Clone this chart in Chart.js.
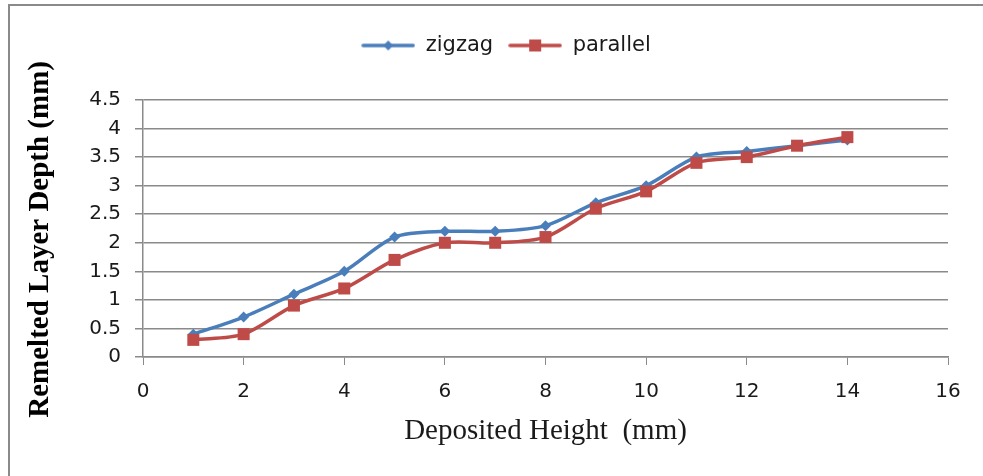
<!DOCTYPE html>
<html>
<head>
<meta charset="utf-8">
<script src="https://cdn.jsdelivr.net/npm/chart.js@4"></script>
<style>
  html, body { margin: 0; padding: 0; background: #fff; }
  #wrap { position: relative; width: 983px; height: 476px; }
  #frame { position: absolute; left: 8px; top: 4px; right: 0; bottom: 0;
           border-top: 2px solid #8a8a8a; border-left: 2px solid #8a8a8a; pointer-events: none; }
</style>
</head>
<body>
<div id="wrap">
  <canvas id="chart" width="983" height="476"></canvas>
  <div id="frame"></div>
</div>
<script>
// ─── Dane ────────────────────────────────────────────────────────────────────
const heights  = [1, 2, 3, 4, 5, 6, 7, 8, 9, 10, 11, 12, 13, 14];
const zigzag   = [0.4, 0.7, 1.1, 1.5, 2.1, 2.2, 2.2, 2.3, 2.7, 3.0, 3.5, 3.6, 3.7, 3.8];
const parallel = [0.3, 0.4, 0.9, 1.2, 1.7, 2.0, 2.0, 2.1, 2.6, 2.9, 3.4, 3.5, 3.7, 3.85];
const seriesNames = ['zigzag', 'parallel'];

const COLORS = {
  zigzag:   '#4a7ebb',
  parallel: '#be4b48',
  grid:     '#8a8a8a',
  text:     '#1a1a1a',
};

// ─── Helpers ─────────────────────────────────────────────────────────────────
function toPoints(values) {
  return heights.map((h, i) => ({ x: h, y: values[i] }));
}

// ikonka legendy: linia + marker
function legendIcon(color, marker) {
  const c = document.createElement('canvas');
  c.width = 54; c.height = 16;
  const g = c.getContext('2d');
  g.strokeStyle = color; g.lineWidth = 3.5; g.lineCap = 'round';
  g.beginPath(); g.moveTo(2, 8); g.lineTo(52, 8); g.stroke();
  g.fillStyle = color;
  g.beginPath();
  if (marker === 'diamond') {
    g.moveTo(27, 3); g.lineTo(32, 8); g.lineTo(27, 13); g.lineTo(22, 8);
  } else {
    g.rect(21, 2, 12, 12);
  }
  g.closePath(); g.fill();
  return c;
}

const icons = [legendIcon(COLORS.zigzag, 'diamond'), legendIcon(COLORS.parallel, 'square')];

// przesunięcie legendy + odstęp pod nią
const legendTweak = {
  id: 'legendTweak',
  beforeInit(chart) {
    const fit = chart.legend.fit;
    chart.legend.fit = function () {
      fit.bind(chart.legend)();
      this.height += 34;
    };
  },
  afterLayout(chart) {
    chart.legend.left += 32;
    chart.legend.right += 32;
  },
};

// ─── Wykres ──────────────────────────────────────────────────────────────────
new Chart(document.getElementById('chart'), {
  type: 'line',
  data: {
    datasets: [
      {
        label: seriesNames[0],
        data: toPoints(zigzag),
        borderColor: COLORS.zigzag,
        backgroundColor: COLORS.zigzag,
        borderWidth: 3.5,
        tension: 0.3,
        pointStyle: 'rectRot',
        pointRadius: 5.5,
        pointBorderWidth: 0,
        order: 1,
      },
      {
        label: seriesNames[1],
        data: toPoints(parallel),
        borderColor: COLORS.parallel,
        backgroundColor: COLORS.parallel,
        borderWidth: 3.5,
        tension: 0.3,
        pointStyle: 'rect',
        pointRadius: 8.5,
        pointBorderWidth: 0,
        order: 0,
      },
    ],
  },
  options: {
    responsive: false,
    animation: false,
    layout: { padding: { top: 20, right: 35, bottom: 0, left: 0 } },
    scales: {
      x: {
        type: 'linear',
        min: 0,
        max: 16,
        afterFit: s => { s.height = 119; },
        ticks: {
          stepSize: 2,
          padding: 15,
          color: COLORS.text,
          font: { family: '"DejaVu Sans", sans-serif', size: 20 },
        },
        title: {
          display: true,
          text: 'Deposited Height  (mm)',
          color: COLORS.text,
          padding: { bottom: 27 },
          font: { family: '"Liberation Serif", serif', size: 29, lineHeight: 1.2 },
        },
        grid: { drawOnChartArea: false, drawTicks: true, tickLength: 8, color: COLORS.grid },
        border: { color: COLORS.grid, width: 1.5 },
      },
      y: {
        min: 0,
        max: 4.5,
        afterFit: s => { s.width = 143; },
        ticks: {
          stepSize: 0.5,
          padding: 14,
          color: COLORS.text,
          font: { family: '"DejaVu Sans", sans-serif', size: 20 },
          callback: v => String(v),
        },
        title: {
          display: true,
          text: 'Remelted Layer Depth (mm)\u00A0\u00A0\u00A0',
          color: '#000',
          padding: { top: 23 },
          font: { family: '"Liberation Serif", serif', size: 29, weight: 'bold', lineHeight: 1.2 },
        },
        grid: { color: COLORS.grid, lineWidth: 1.5, tickLength: 8 },
        border: { color: COLORS.grid, width: 1.5 },
      },
    },
    plugins: {
      legend: {
        position: 'top',
        labels: {
          usePointStyle: true,
          pointStyleWidth: 54,
          padding: 15,
          color: COLORS.text,
          font: { family: '"DejaVu Sans", sans-serif', size: 21 },
          generateLabels: chart => chart.data.datasets.map((ds, i) => ({
            text: ds.label,
            fillStyle: ds.borderColor,
            strokeStyle: ds.borderColor,
            fontColor: COLORS.text,
            pointStyle: icons[i],
            lineWidth: 0,
            hidden: false,
            datasetIndex: i,
          })),
        },
      },
      tooltip: { enabled: false },
    },
  },
  plugins: [legendTweak],
});
</script>
</body>
</html>
